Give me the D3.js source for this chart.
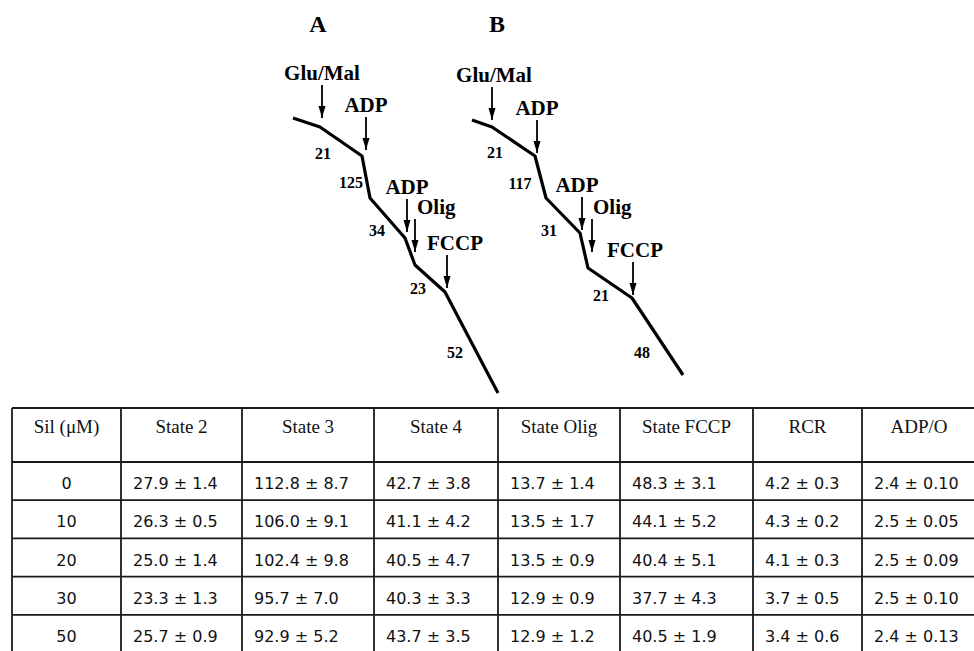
<!DOCTYPE html>
<html>
<head>
<meta charset="utf-8">
<script src="https://cdn.jsdelivr.net/npm/d3@7"></script>
<style>
  body { margin: 0; background: #fff; }
  svg { display: block; }
</style>
</head>
<body>
<div id="chart"></div>
<script>
// oxygen traces, time (s) vs O2 (arbitrary nmol units)
const traceA = [
  { t: 3, o2: 282 }, { t: 30, o2: 273 }, { t: 72, o2: 244 }, { t: 80, o2: 202 },
  { t: 115, o2: 162 }, { t: 125, o2: 135 }, { t: 155, o2: 108 }, { t: 208, o2: 7 }
];
const traceB = [
  { t: 3, o2: 280 }, { t: 23, o2: 273 }, { t: 66, o2: 244 }, { t: 77, o2: 202 },
  { t: 111, o2: 167 }, { t: 119, o2: 132 }, { t: 163, o2: 102 }, { t: 214, o2: 25 }
];

// additions (arrow tip at t, o2)
const additionsA = [
  { label: "Glu/Mal", t: 32, o2: 282 },
  { label: "ADP", t: 76, o2: 250 },
  { label: "ADP", t: 117, o2: 168 },
  { label: "Olig", t: 125, o2: 148 },
  { label: "FCCP", t: 157, o2: 112 }
];
const additionsB = [
  { label: "Glu/Mal", t: 23, o2: 280 },
  { label: "ADP", t: 68, o2: 247 },
  { label: "ADP", t: 113, o2: 170 },
  { label: "Olig", t: 123, o2: 148 },
  { label: "FCCP", t: 164, o2: 105 }
];

// respiration rates written beside each segment
const ratesA = [
  { value: 21, t: 33, o2: 247 }, { value: 125, t: 61, o2: 218 },
  { value: 34, t: 87, o2: 170 }, { value: 23, t: 128, o2: 112 },
  { value: 52, t: 165, o2: 48 }
];
const ratesB = [
  { value: 21, t: 26, o2: 248 }, { value: 117, t: 51, o2: 217 },
  { value: 31, t: 80, o2: 170 }, { value: 21, t: 132, o2: 105 },
  { value: 48, t: 173, o2: 48 }
];

// table
const headers = ["Sil (μM)", "State 2", "State 3", "State 4", "State Olig", "State FCCP", "RCR", "ADP/O"];
const silConc = [0, 10, 20, 30, 50];
const state2 = [[27.9, 1.4], [26.3, 0.5], [25.0, 1.4], [23.3, 1.3], [25.7, 0.9]];
const state3 = [[112.8, 8.7], [106.0, 9.1], [102.4, 9.8], [95.7, 7.0], [92.9, 5.2]];
const state4 = [[42.7, 3.8], [41.1, 4.2], [40.5, 4.7], [40.3, 3.3], [43.7, 3.5]];
const stateOlig = [[13.7, 1.4], [13.5, 1.7], [13.5, 0.9], [12.9, 0.9], [12.9, 1.2]];
const stateFccp = [[48.3, 3.1], [44.1, 5.2], [40.4, 5.1], [37.7, 4.3], [40.5, 1.9]];
const rcr = [[4.2, 0.3], [4.3, 0.2], [4.1, 0.3], [3.7, 0.5], [3.4, 0.6]];
const adpO = [[2.4, 0.10], [2.5, 0.05], [2.5, 0.09], [2.5, 0.10], [2.4, 0.13]];

const width = 974, height = 651;
const svg = d3.select("#chart").append("svg")
  .attr("width", width).attr("height", height)
  .style("background", "#fff");

const y = d3.scaleLinear().domain([290, 0]).range([110, 400]);
const xA = d3.scaleLinear().domain([0, 220]).range([290, 510]);
const xB = d3.scaleLinear().domain([0, 220]).range([469, 689]);

svg.append("defs").append("marker")
  .attr("id", "head")
  .attr("viewBox", "0 0 12 10")
  .attr("refX", 12).attr("refY", 5)
  .attr("markerWidth", 12).attr("markerHeight", 10)
  .attr("markerUnits", "userSpaceOnUse")
  .attr("orient", "auto")
  .append("path").attr("d", "M0,1.5 L12,5 L0,8.5 Z").attr("fill", "#000");

const arrowLen = 33;
// label placement relative to each arrow: [dx, anchor]
const labelShiftA = [[0, "middle"], [0, "middle"], [0, "middle"], [2, "start"], [8, "middle"]];
const labelShiftB = [[2, "middle"], [0, "middle"], [-5, "middle"], [1, "start"], [2, "middle"]];

function drawPanel(name, x, trace, additions, rates, shifts) {
  const g = svg.append("g");
  const bold = "'Liberation Serif', 'Times New Roman', serif";

  g.append("text")
    .attr("x", x(28)).attr("y", 32)
    .attr("text-anchor", "middle")
    .attr("font-family", bold).attr("font-weight", "bold").attr("font-size", 24)
    .text(name);

  const line = d3.line().x(d => x(d.t)).y(d => y(d.o2));
  g.append("path")
    .datum(trace)
    .attr("d", line)
    .attr("fill", "none")
    .attr("stroke", "#000")
    .attr("stroke-width", 3.2)
    .attr("stroke-linejoin", "round");

  const arr = g.selectAll(".add").data(additions).enter().append("g").attr("class", "add");
  arr.append("line")
    .attr("x1", d => x(d.t)).attr("x2", d => x(d.t))
    .attr("y1", d => y(d.o2) - arrowLen).attr("y2", d => y(d.o2))
    .attr("stroke", "#000").attr("stroke-width", 1.8)
    .attr("marker-end", "url(#head)");
  arr.append("text")
    .attr("x", (d, i) => x(d.t) + shifts[i][0])
    .attr("y", d => y(d.o2) - arrowLen - 5)
    .attr("text-anchor", (d, i) => shifts[i][1])
    .attr("font-family", bold).attr("font-weight", "bold").attr("font-size", 21)
    .text(d => d.label);

  g.selectAll(".rate").data(rates).enter().append("text")
    .attr("class", "rate")
    .attr("x", d => x(d.t)).attr("y", d => y(d.o2))
    .attr("text-anchor", "middle")
    .attr("dominant-baseline", "central")
    .attr("font-family", bold).attr("font-weight", "bold").attr("font-size", 16)
    .text(d => d.value);
}

drawPanel("A", xA, traceA, additionsA, ratesA, labelShiftA);
drawPanel("B", xB, traceB, additionsB, ratesB, labelShiftB);

// ---- table ----
const colEdges = [12, 121, 242, 374, 498, 620, 753, 862, 976];
const tableTop = 408, headerBottom = 462, tableBottom = 653;
const columns = [state2, state3, state4, stateOlig, stateFccp, rcr, adpO];
const sdFmt = [".1f", ".1f", ".1f", ".1f", ".1f", ".1f", ".2f"];

const rowScale = d3.scaleBand()
  .domain(silConc)
  .range([headerBottom, tableBottom]);

const tg = svg.append("g");
const lineColor = "#1a1a1a";

// horizontal rules
const hLines = [tableTop, headerBottom].concat(silConc.slice(1).map(s => rowScale(s)), [tableBottom]);
tg.selectAll(".hl").data(hLines).enter().append("line")
  .attr("x1", colEdges[0]).attr("x2", colEdges[colEdges.length - 1])
  .attr("y1", d => d).attr("y2", d => d)
  .attr("stroke", lineColor).attr("stroke-width", 1.8);

tg.selectAll(".vl").data(colEdges).enter().append("line")
  .attr("x1", d => d).attr("x2", d => d)
  .attr("y1", tableTop).attr("y2", tableBottom)
  .attr("stroke", lineColor).attr("stroke-width", 1.8);

tg.selectAll(".hd").data(headers).enter().append("text")
  .attr("x", (d, i) => (colEdges[i] + colEdges[i + 1]) / 2)
  .attr("y", 433)
  .attr("text-anchor", "middle")
  .attr("font-family", "'Liberation Serif', 'Times New Roman', serif")
  .attr("font-size", 19)
  .attr("fill", "#111")
  .text(d => d);

const numFont = "'DejaVu Sans', sans-serif";
tg.selectAll(".sil").data(silConc).enter().append("text")
  .attr("x", (colEdges[0] + colEdges[1]) / 2)
  .attr("y", d => rowScale(d) + rowScale.bandwidth() / 2 + 8)
  .attr("text-anchor", "middle")
  .attr("font-family", numFont).attr("font-size", 16).attr("fill", "#111")
  .text(d => d);

columns.forEach((col, ci) => {
  const f = d3.format(".1f"), fs = d3.format(sdFmt[ci]);
  tg.selectAll(".c" + ci).data(col).enter().append("text")
    .attr("x", colEdges[ci + 1] + 12)
    .attr("y", (d, ri) => rowScale(silConc[ri]) + rowScale.bandwidth() / 2 + 8)
    .attr("font-family", numFont).attr("font-size", 16).attr("fill", "#111")
    .text(d => `${f(d[0])} ± ${fs(d[1])}`);
});
</script>
</body>
</html>
